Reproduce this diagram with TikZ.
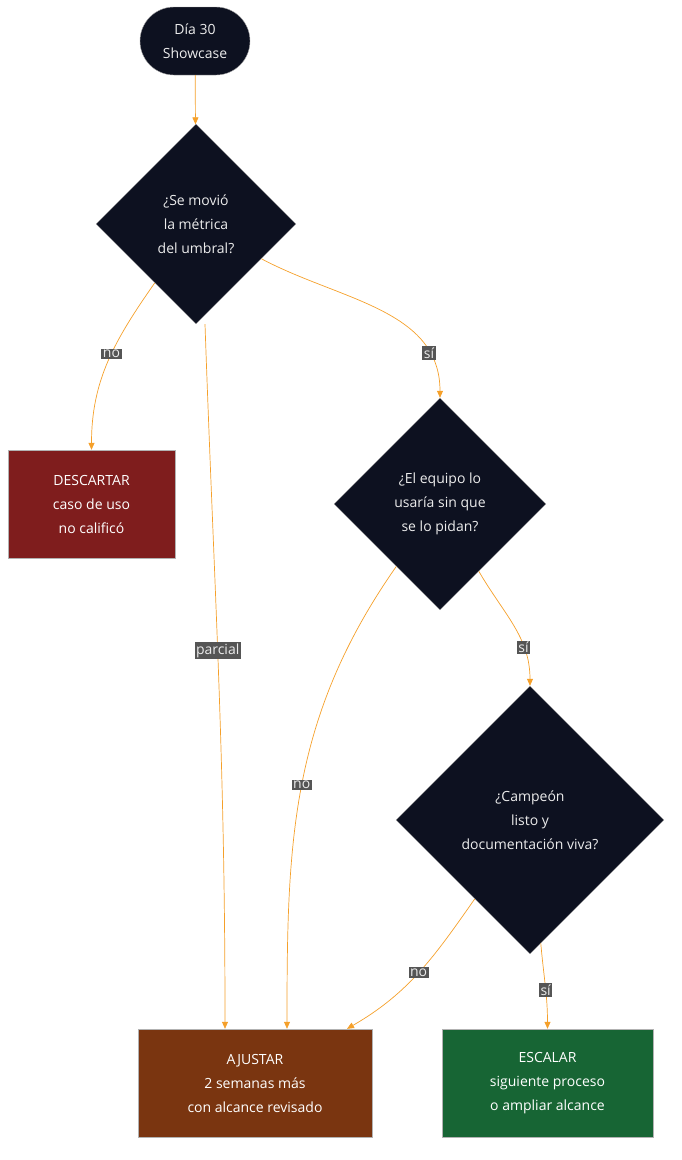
\documentclass[tikz,border=0pt]{standalone}
\usepackage{fontspec}
\setmainfont{Open Sans}
\usetikzlibrary{arrows.meta,shapes.geometric}
\definecolor{ink}{HTML}{0D1120}
\definecolor{edgec}{HTML}{F5A02A}
\definecolor{labc}{HTML}{555555}
\definecolor{redc}{HTML}{7F1D1D}
\definecolor{brownc}{HTML}{7A3510}
\definecolor{greenc}{HTML}{176534}
\begin{document}
\begin{tikzpicture}[x=1pt,y=-1pt,
    txt/.style = {text=white, align=center, font=\fontsize{14}{24}\selectfont},
    dec/.style = {txt, draw=gray!70, fill=ink, diamond, inner sep=0pt, text=white!85!gray},
    box/.style = {txt, draw=gray!60, minimum height=108, inner sep=0pt},
    lab/.style = {fill=labc, text=white!85!gray, inner sep=1.5pt, font=\fontsize{14}{16}\selectfont},
    flow/.style = {draw=edgec, -{Triangle[length=7pt,width=6pt]}, line width=0.7pt}]
    \useasboundingbox (0,0) rectangle (681,1160);

    \node[txt, draw=gray!70, fill=ink, rounded corners=34, minimum width=110, minimum height=68, text=white!85!gray] (start) at (195,41) {Día 30\\Showcase};
    \node[dec, minimum width=200, minimum height=200] (d1) at (196,224) {¿Se movió\\la métrica\\del umbral?};
    \node[box, fill=redc, minimum width=167] (desc) at (91.5,504) {DESCARTAR\\caso de uso\\no calificó};
    \node[dec, minimum width=212, minimum height=212] (d2) at (440,504) {¿El equipo lo\\usaría sin que\\se lo pidan?};
    \node[dec, minimum width=268, minimum height=268] (d3) at (530,820) {¿Campeón\\listo y\\documentación viva?};
    \node[box, fill=brownc, minimum width=234] (ajus) at (255,1083) {AJUSTAR\\2 semanas más\\con alcance revisado};
    \node[box, fill=greenc, minimum width=211] (esc) at (547.5,1083) {ESCALAR\\siguiente proceso\\o ampliar alcance};

    \path[flow] (start) -- (d1);
    \path[flow] (d1) to[out=235,in=90] node[lab,pos=0.45] {no} (desc);
    \path[flow] ([xshift=9]d1.south) to[out=-88,in=90] node[lab,pos=0.46] {parcial} ([xshift=-30]ajus.north);
    \path[flow] (d1) to[out=-28,in=90] node[lab,pos=0.8] {sí} (d2);
    \path[flow] (d2) to[out=235,in=90] node[lab,pos=0.5] {no} ([xshift=32]ajus.north);
    \path[flow] (d2) to[out=-60,in=90] node[lab,pos=0.7] {sí} (d3);
    \path[flow] (d3) to[out=235,in=30] node[lab,pos=0.5] {no} ([xshift=92]ajus.north);
    \path[flow] (d3) to[out=-85,in=90] node[lab,pos=0.55] {sí} (esc);
\end{tikzpicture}
\end{document}
